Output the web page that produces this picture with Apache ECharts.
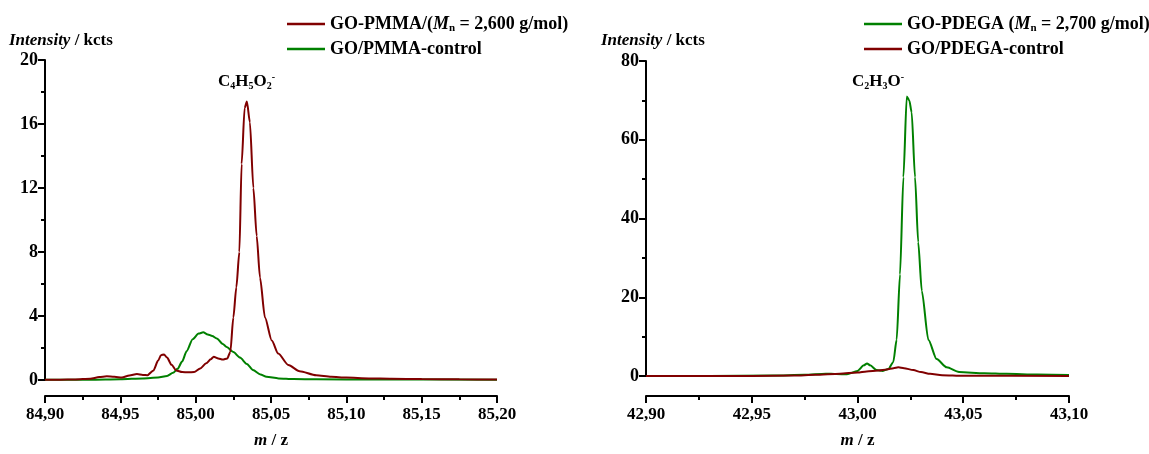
<!DOCTYPE html>
<html><head><meta charset="utf-8">
<script src="https://cdn.jsdelivr.net/npm/echarts@6/dist/echarts.min.js"></script>
<style>html,body{margin:0;padding:0;background:#fff}#c{width:1149px;height:454px}</style>
</head><body><div id="c"></div>
<script>
// ---- data ----
const leftXTicks = ['84,90','84,95','85,00','85,05','85,10','85,15','85,20'];
const rightXTicks = ['42,90','42,95','43,00','43,05','43,10'];

const pmmaX = [84.900,84.910,84.920,84.930,84.936,84.941,84.946,84.951,84.956,84.961,84.965,84.968,84.972,84.975,84.977,84.979,84.981,84.984,84.987,84.991,84.995,84.999,85.003,85.007,85.010,85.012,85.015,85.018,85.021,85.023,85.025,85.027,85.029,85.0305,85.0325,85.034,85.036,85.0383,85.0405,85.0427,85.046,85.0505,85.0548,85.0615,85.069,85.080,85.090,85.100,85.115,85.130,85.150,85.175,85.200];
const pmmaY = [0.02,0.02,0.03,0.08,0.18,0.23,0.20,0.15,0.28,0.37,0.32,0.30,0.60,1.20,1.55,1.60,1.40,0.95,0.60,0.50,0.48,0.50,0.72,1.04,1.30,1.45,1.35,1.28,1.35,1.75,3.9,5.8,8.0,13.5,17.0,17.4,16.1,12.0,9.0,6.4,3.9,2.47,1.65,0.94,0.55,0.30,0.20,0.15,0.10,0.08,0.06,0.04,0.03];

const pmmaCtrlX = [84.900,84.930,84.950,84.965,84.975,84.981,84.985,84.988,84.991,84.994,84.998,85.002,85.005,85.008,85.011,85.014,85.018,85.0206,85.025,85.0294,85.034,85.038,85.043,85.047,85.055,85.065,85.080,85.120,85.200];
const pmmaCtrlY = [0.01,0.02,0.05,0.10,0.15,0.25,0.45,0.70,1.15,1.80,2.55,2.90,2.98,2.85,2.75,2.60,2.25,2.06,1.75,1.40,1.00,0.63,0.35,0.20,0.10,0.06,0.04,0.03,0.02];

const pdegaX = [42.910,42.930,42.960,42.975,42.985,42.990,42.995,43.000,43.003,43.0045,43.006,43.009,43.012,43.0146,43.0169,43.0185,43.0201,43.0217,43.0233,43.0245,43.0256,43.0272,43.0287,43.0304,43.0335,43.0374,43.0422,43.048,43.060,43.0705,43.085,43.100];
const pdegaY = [0.0,0.0,0.1,0.3,0.6,0.5,0.45,1.3,2.7,3.2,2.7,1.5,1.3,1.8,3.5,9.2,25.8,50.5,71.0,70.0,67.0,50.5,34.0,21.6,9.2,4.3,2.2,1.0,0.7,0.55,0.35,0.25];

const pdegaCtrlX = [42.900,42.950,42.970,42.980,42.9917,43.000,43.0043,43.010,43.0138,43.017,43.0193,43.022,43.0264,43.030,43.0343,43.040,43.050,43.100];
const pdegaCtrlY = [0,0,0.1,0.3,0.6,0.9,1.16,1.4,1.65,2.0,2.2,2.0,1.5,1.0,0.55,0.2,0.05,0];

const names = {
  pmma: 'GO-PMMA/(Mn = 2,600 g/mol)',
  pmmaCtrl: 'GO/PMMA-control',
  pdega: 'GO-PDEGA (Mn = 2,700 g/mol)',
  pdegaCtrl: 'GO/PDEGA-control'
};
// ---- chart ----
const FONT = '"Liberation Serif","Times New Roman",serif';
const RED = '#800000', GREEN = '#008000';
const zip = (xs, ys) => xs.map((x, i) => [x, ys[i]]);
const fmtX = v => v.toFixed(2).replace('.', ',');

function mkRich(size) {
  return {
    b: {fontFamily: FONT, fontWeight: 'bold', fontSize: size, color: '#000'},
    i: {fontFamily: FONT, fontWeight: 'bold', fontStyle: 'italic', fontSize: size, color: '#000'},
    s: {fontFamily: FONT, fontWeight: 'bold', fontSize: Math.round(size * 0.6), color: '#000', verticalAlign: 'bottom', padding: [Math.round(size * 0.5), 0, 0, 0]},
    p: {fontFamily: FONT, fontWeight: 'bold', fontSize: Math.round(size * 0.6), color: '#000', verticalAlign: 'top', padding: [0, 0, Math.round(size * 0.5), 0]}
  };
}
const rich17 = mkRich(17), rich18 = mkRich(18);

function xAxis(gi, min, max, offset) {
  return {
    type: 'value', gridIndex: gi, min: min, max: max, interval: 0.05, offset: offset,
    name: '{i|m}{b| / z}', nameLocation: 'middle', nameGap: 36,
    nameTextStyle: {rich: rich17},
    axisLine: {onZero: false, lineStyle: {color: '#000', width: 2}},
    axisTick: {length: 7, lineStyle: {color: '#000', width: 2}},
    minorTick: {show: true, splitNumber: 2, length: 4, lineStyle: {color: '#000', width: 2}},
    axisLabel: {formatter: fmtX, fontFamily: FONT, fontWeight: 'bold', fontSize: 17, color: '#000', margin: 10, showMinLabel: true, showMaxLabel: true},
    splitLine: {show: false}
  };
}
function yAxis(gi, max, interval) {
  return {
    type: 'value', gridIndex: gi, min: 0, max: max, interval: interval,
    axisLine: {show: true, lineStyle: {color: '#000', width: 2}},
    axisTick: {show: true, length: 7, lineStyle: {color: '#000', width: 2}},
    minorTick: {show: true, splitNumber: 2, length: 4, lineStyle: {color: '#000', width: 2}},
    axisLabel: {fontFamily: FONT, fontWeight: 'bold', fontSize: 18, color: '#000', margin: 7},
    splitLine: {show: false}
  };
}
function line(name, xi, data, color) {
  return {
    type: 'line', name: name, xAxisIndex: xi, yAxisIndex: xi, data: data,
    showSymbol: false, symbol: 'none', smooth: 0.25, smoothMonotone: 'x',
    lineStyle: {color: color, width: 2}, itemStyle: {color: color},
    emphasis: {disabled: true}, animation: false, z: color === RED ? 3 : 2
  };
}
function legendFmt(name) {
  const m = name.match(/^(.*\()Mn( = .*)$/);
  if (m) return '{b|' + m[1] + '}{i|M}{s|n}{b|' + m[2] + '}';
  return '{b|' + name + '}';
}
function legend(left, top, data) {
  return {
    left: left, top: top, orient: 'vertical', data: data, itemWidth: 38, itemHeight: 2.5, itemGap: 6,
    icon: 'rect', formatter: legendFmt, selectedMode: false, padding: 0,
    textStyle: {rich: rich18, fontFamily: FONT, fontSize: 18, fontWeight: 'bold', color: '#000'}
  };
}

const chart = echarts.init(document.getElementById('c'), null, {renderer: 'canvas'});
chart.setOption({
  animation: false,
  grid: [
    {left: 45, right: 652, top: 60, bottom: 67},
    {left: 646, right: 80, top: 61, bottom: 70}
  ],
  xAxis: [xAxis(0, 84.90, 85.20, 16), xAxis(1, 42.90, 43.10, 20)],
  yAxis: [yAxis(0, 20, 4), yAxis(1, 80, 20)],
  legend: [
    legend(287, 15, [{name: names.pmma, itemStyle: {color: RED}}, {name: names.pmmaCtrl, itemStyle: {color: GREEN}}]),
    legend(864, 15, [{name: names.pdega, itemStyle: {color: GREEN}}, {name: names.pdegaCtrl, itemStyle: {color: RED}}])
  ],
  series: [
    line(names.pmmaCtrl, 0, zip(pmmaCtrlX, pmmaCtrlY), GREEN),
    line(names.pmma, 0, zip(pmmaX, pmmaY), RED),
    line(names.pdegaCtrl, 1, zip(pdegaCtrlX, pdegaCtrlY), RED),
    line(names.pdega, 1, zip(pdegaX, pdegaY), GREEN)
  ],
  graphic: [
    {type: 'text', left: 9, top: 32, style: {text: '{i|Intensity}{b| / kcts}', rich: rich17}},
    {type: 'text', left: 601, top: 32, style: {text: '{i|Intensity}{b| / kcts}', rich: rich17}},
    {type: 'text', left: 218, top: 72, style: {text: '{b|C}{s|4}{b|H}{s|5}{b|O}{s|2}{p|-}', rich: rich17}},
    {type: 'text', left: 852, top: 72, style: {text: '{b|C}{s|2}{b|H}{s|3}{b|O}{p|-}', rich: rich17}}
  ]
});
</script></body></html>
